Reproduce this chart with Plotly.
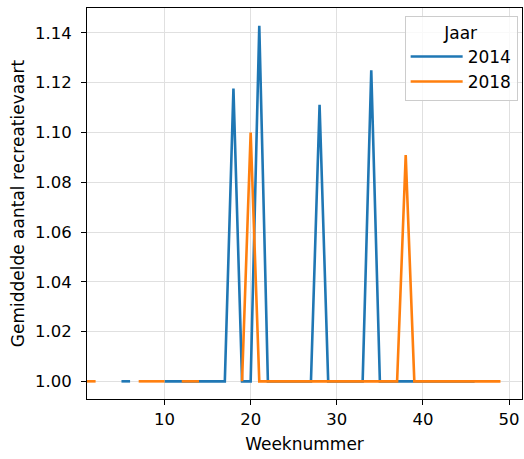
import plotly.graph_objects as go

# ---------------------------------------------------------------------------
# Data: average number of recreational vessels per week
# ---------------------------------------------------------------------------
weeks = list(range(1, 50))

avg_2014 = [
    None, None, None, None, 1.0, 1.0, None, None, None, 1.0,   # 1-10
    1.0, 1.0, 1.0, 1.0, 1.0, 1.0, 1.0, 1.1176, 1.0, 1.0,       # 11-20
    1.1429, 1.0, 1.0, 1.0, 1.0, 1.0, 1.0, 1.1111, 1.0, 1.0,    # 21-30
    1.0, 1.0, 1.0, 1.125, 1.0, 1.0, 1.0, 1.0, 1.0, 1.0,        # 31-40
    1.0, 1.0, 1.0, 1.0, 1.0, 1.0, None, None, None,            # 41-49
]

avg_2018 = [
    1.0, 1.0, None, None, None, None, 1.0, 1.0, 1.0, 1.0,      # 1-10
    None, 1.0, 1.0, 1.0, None, None, None, None, 1.0, 1.10,    # 11-20
    1.0, 1.0, 1.0, 1.0, 1.0, 1.0, 1.0, 1.0, 1.0, 1.0,          # 21-30
    1.0, 1.0, 1.0, 1.0, 1.0, 1.0, 1.0, 1.0909, 1.0, 1.0,       # 31-40
    1.0, 1.0, 1.0, 1.0, 1.0, 1.0, 1.0, 1.0, 1.0,               # 41-49
]

y_ticks = [1.00, 1.02, 1.04, 1.06, 1.08, 1.10, 1.12, 1.14]
x_ticks = [10, 20, 30, 40, 50]

_FONT = "DejaVu Sans"
_GRID = "#e0e0e0"

fig = go.Figure()
fig.add_trace(go.Scatter(
    x=weeks, y=avg_2014, mode="lines", name="2014",
    line=dict(color="#1f77b4", width=2.6),
))
fig.add_trace(go.Scatter(
    x=weeks, y=avg_2018, mode="lines", name="2018",
    line=dict(color="#ff7f0e", width=2.6),
))

_axis = dict(
    showline=True, linecolor="black", linewidth=1, mirror=True,
    ticks="outside", ticklen=5, tickcolor="black",
    gridcolor=_GRID, gridwidth=1, zeroline=False, automargin=False,
    tickfont=dict(size=16.5, color="black"),
)

fig.update_layout(
    width=524, height=459,
    paper_bgcolor="white", plot_bgcolor="white",
    font=dict(family=_FONT, color="black", size=17),
    margin=dict(l=87, r=2, t=8, b=60),
    xaxis=dict(
        **_axis, range=[1, 51.5], tickvals=x_ticks,
        title=dict(text="Weeknummer", font=dict(size=17), standoff=10),
    ),
    yaxis=dict(
        **_axis, range=[0.9929, 1.15], tickvals=y_ticks, tickformat=".2f",
        ticklabelstandoff=6,
        title=dict(text="Gemiddelde aantal recreatievaart", font=dict(size=17), standoff=6),
    ),
    legend=dict(
        title=dict(text="Jaar", side="top center", font=dict(size=17)),
        x=0.99, y=0.98, xanchor="right", yanchor="top",
        bgcolor="rgba(255,255,255,0.8)", bordercolor="#cccccc", borderwidth=1,
        font=dict(size=17), itemwidth=52,
    ),
)

# drop the default page margin so the figure sits flush in the window
fig.write_html(
    "out.html",
    config={"displayModeBar": False},
    post_script="document.body.style.margin='0px';",
)
